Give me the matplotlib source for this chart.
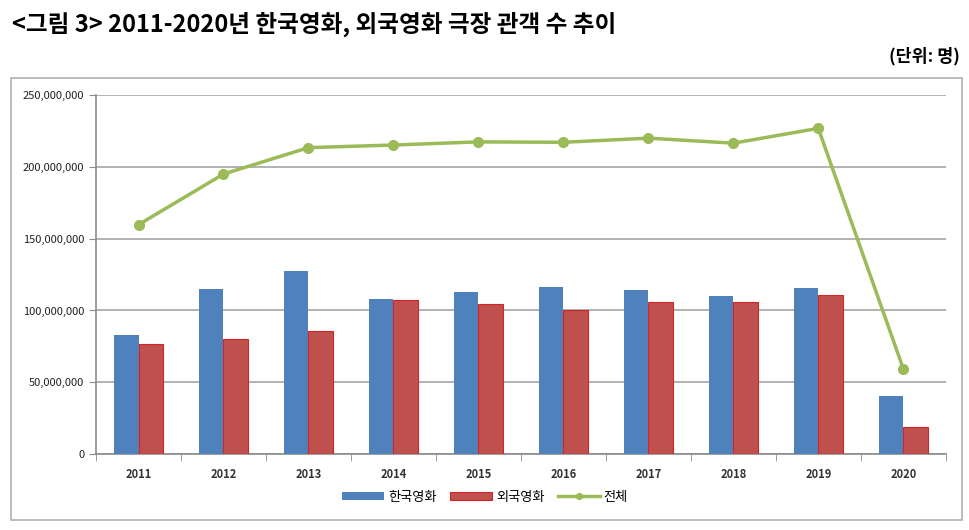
import numpy as np
import matplotlib.pyplot as plt
from matplotlib.patches import Rectangle
from matplotlib.ticker import FuncFormatter, FixedLocator

plt.rcParams['font.family'] = ['Noto Sans CJK KR', 'DejaVu Sans']

# 데이터
years = ['2011', '2012', '2013', '2014', '2015', '2016', '2017', '2018', '2019', '2020']
korean = [82.9e6, 114.6e6, 127.2e6, 107.7e6, 112.9e6, 116.6e6, 113.9e6, 110.2e6, 115.6e6, 40.5e6]
foreign = [76.8e6, 80.3e6, 86.0e6, 107.4e6, 104.4e6, 100.4e6, 105.9e6, 106.2e6, 111.0e6, 19.0e6]
total = [159.7e6, 194.9e6, 213.3e6, 215.1e6, 217.3e6, 217.0e6, 219.9e6, 216.4e6, 226.7e6, 59.5e6]

fig = plt.figure(figsize=(9.7, 5.3), dpi=100)
ax = fig.add_axes([0.099, 0.143, 0.876, 0.678])

x = np.arange(len(years))
w = 0.29
b1 = ax.bar(x - w / 2, korean, w, color='#4F81BD', label='한국영화', zorder=3)
b2 = ax.bar(x + w / 2, foreign, w, color='#C0504D', edgecolor='#D0262A', linewidth=0.8,
            label='외국영화', zorder=3)
l1, = ax.plot(x, total, color='#9BBB59', linewidth=2.5, marker='o', markersize=7,
              label='전체', zorder=4)

ax.set_xlim(-0.5, len(years) - 0.5)
ax.set_ylim(0, 250e6)
ax.set_yticks(np.arange(0, 250e6 + 1, 50e6))
ax.yaxis.set_major_formatter(FuncFormatter(lambda v, p: f'{int(v):,}'))
ax.grid(axis='y', color='#A6A6A6', linewidth=1.2, zorder=0)

ax.set_xticks(x)
ax.set_xticklabels(years)
ax.xaxis.set_minor_locator(FixedLocator(np.arange(-0.5, len(years), 1)))
ax.tick_params(axis='x', which='major', length=0, pad=10, labelsize=8)
ax.tick_params(axis='x', which='minor', length=5, direction='out', color='#8C8C8C')
ax.tick_params(axis='y', length=5, color='#8C8C8C', labelsize=8, labelcolor='#222222')
for lbl in ax.get_xticklabels():
    lbl.set_fontweight('bold')
    lbl.set_color('#333333')

for s in ['top', 'right']:
    ax.spines[s].set_visible(False)
ax.spines['left'].set_color('#8C8C8C')
ax.spines['bottom'].set_color('#8C8C8C')
ax.spines['left'].set_linewidth(1.2)
ax.spines['bottom'].set_linewidth(1.2)

# 차트 테두리
fig.patches.append(Rectangle((0.011, 0.018), 0.981, 0.835, transform=fig.transFigure,
                             fill=False, edgecolor='#B0B0B0', linewidth=1.2))

fig.text(0.012, 0.955, '<그림 3> 2011-2020년 한국영화, 외국영화 극장 관객 수 추이',
         fontsize=17, fontweight='bold', va='center', ha='left')
fig.text(0.99, 0.893, '(단위: 명)', fontsize=12.5, fontweight='bold', va='center', ha='right')

leg = fig.legend([b1, b2, l1], ['한국영화', '외국영화', '전체'],
                 loc='center', bbox_to_anchor=(0.5, 0.062), ncol=3, frameon=False,
                 fontsize=9.5, handlelength=3.2, handleheight=0.6, columnspacing=1.0,
                 handletextpad=0.3, markerscale=0.6)

plt.savefig('out.png', dpi=100)
